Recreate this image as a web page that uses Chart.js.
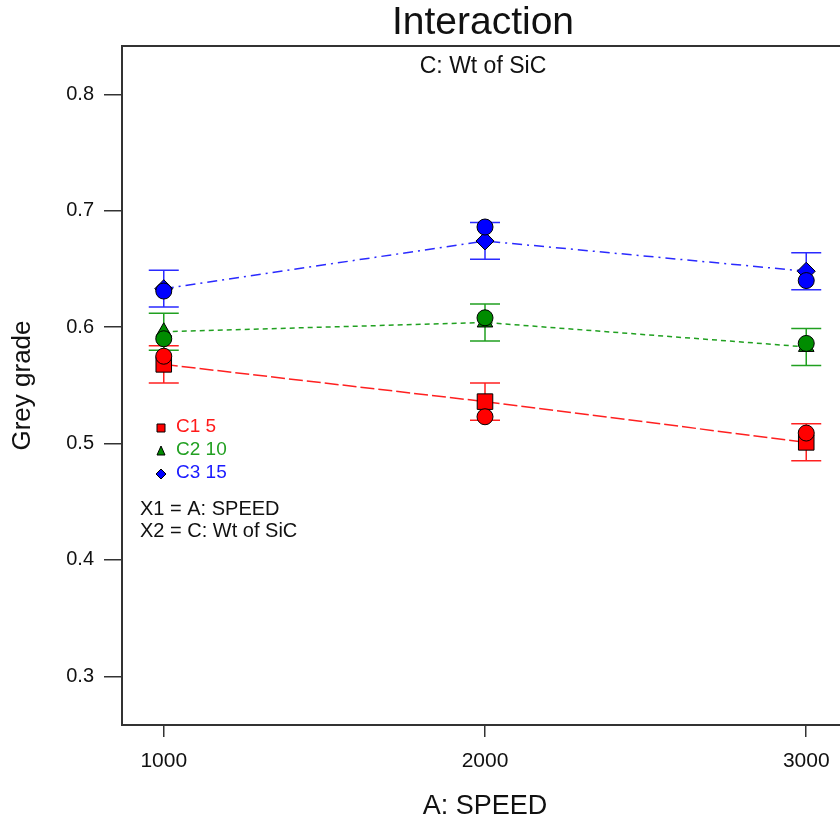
<!DOCTYPE html>
<html>
<head>
<meta charset="utf-8">
<script src="https://cdn.jsdelivr.net/npm/chart.js@4"></script>
<style>
  html, body { margin: 0; padding: 0; background: #fff; overflow: hidden; }
  canvas { display: block; }
</style>
</head>
<body>
<canvas id="interactionChart" width="860" height="825"></canvas>
<script>
// Data
const speeds = [1000, 2000, 3000];
const speedTicks = [1000, 2000, 3000];
const gradeTicks = [0.3, 0.4, 0.5, 0.6, 0.7, 0.8];

const seriesNames = ['C1 5', 'C2 10', 'C3 15'];

// predicted means (line points)
const predC1 = [0.568, 0.536, 0.501];
const predC2 = [0.596, 0.604, 0.583];
const predC3 = [0.633, 0.674, 0.648];

// LSD half-width for each mean
const errC1 = [0.0159, 0.0159, 0.0159];
const errC2 = [0.0159, 0.0159, 0.0159];
const errC3 = [0.0158, 0.0158, 0.0158];

// design points (circles)
const obsC1 = [0.575, 0.523, 0.509];
const obsC2 = [0.590, 0.608, 0.586];
const obsC3 = [0.631, 0.686, 0.640];

const lineColors = ['#ff2020', '#20a020', '#2a2aff'];
const fillColors = ['#ff0000', '#008c00', '#0000ff'];
const textColors = ['#ff1a1a', '#22a022', '#1a1aff'];
const markerStyles = ['rect', 'triangle', 'rectRot'];
const dashes = [[14, 4], [5, 4], [10, 5, 2, 5]];

const preds = [predC1, predC2, predC3];
const errs = [errC1, errC2, errC3];
const obs = [obsC1, obsC2, obsC3];

const FONT = '"Liberation Sans", Arial, sans-serif';

const toPoints = arr => speeds.map((s, i) => ({ x: s, y: arr[i] }));

const datasets = [];
// circles first so they sit on top
obs.forEach((arr, k) => {
    datasets.push({
        label: 'obs ' + seriesNames[k],
        data: toPoints(arr),
        showLine: false,
        pointStyle: 'circle',
        pointRadius: 8,
        backgroundColor: fillColors[k],
        borderColor: '#000',
        borderWidth: 1,
        order: 0
    });
});
preds.forEach((arr, k) => {
    datasets.push({
        label: seriesNames[k],
        data: toPoints(arr),
        showLine: true,
        borderColor: lineColors[k],
        borderWidth: 1.5,
        borderDash: dashes[k],
        pointStyle: markerStyles[k],
        pointRadius: k === 0 ? 11 : 9,
        pointBackgroundColor: fillColors[k],
        pointBorderColor: '#000',
        pointBorderWidth: 1,
        tension: 0,
        order: 1,
        errors: errs[k]
    });
});

// error bars under the markers
const errorBars = {
    id: 'errorBars',
    beforeDatasetsDraw(chart) {
        const { ctx, scales: { x, y } } = chart;
        ctx.save();
        ctx.lineWidth = 1.5;
        chart.data.datasets.forEach((ds, k) => {
            if (!ds.errors) return;
            ctx.strokeStyle = ds.borderColor;
            ds.data.forEach((p, i) => {
                const px = x.getPixelForValue(p.x);
                const top = y.getPixelForValue(p.y + ds.errors[i]);
                const bot = y.getPixelForValue(p.y - ds.errors[i]);
                ctx.beginPath();
                ctx.moveTo(px, top); ctx.lineTo(px, bot);
                ctx.moveTo(px - 15, top); ctx.lineTo(px + 15, top);
                ctx.moveTo(px - 15, bot); ctx.lineTo(px + 15, bot);
                ctx.stroke();
            });
        });
        ctx.restore();
    }
};

function drawMarker(ctx, style, cx, cy, r, fill) {
    ctx.beginPath();
    if (style === 'rect') {
        ctx.rect(cx - r, cy - r, 2 * r, 2 * r);
    } else if (style === 'triangle') {
        ctx.moveTo(cx, cy - r - 1);
        ctx.lineTo(cx + r, cy + r);
        ctx.lineTo(cx - r, cy + r);
        ctx.closePath();
    } else {
        ctx.moveTo(cx, cy - r - 1);
        ctx.lineTo(cx + r + 1, cy);
        ctx.lineTo(cx, cy + r + 1);
        ctx.lineTo(cx - r - 1, cy);
        ctx.closePath();
    }
    ctx.fillStyle = fill;
    ctx.fill();
    ctx.strokeStyle = '#000';
    ctx.lineWidth = 1;
    ctx.stroke();
}

// frame, titles and legend box inside the plot
const decorations = {
    id: 'decorations',
    afterDraw(chart) {
        const { ctx, chartArea: a } = chart;
        ctx.save();
        ctx.strokeStyle = '#333';
        ctx.lineWidth = 2;
        ctx.strokeRect(a.left, a.top, a.right - a.left, a.bottom - a.top);

        ctx.fillStyle = '#111';
        ctx.textAlign = 'center';
        ctx.textBaseline = 'middle';
        ctx.font = '39px ' + FONT;
        ctx.fillText('Interaction', 483, 23);
        ctx.font = '23px ' + FONT;
        ctx.fillText('C: Wt of SiC', 483, 67);

        ctx.textAlign = 'left';
        ctx.font = '19px ' + FONT;
        const rows = [427, 450, 473];
        seriesNames.forEach((name, k) => {
            drawMarker(ctx, markerStyles[k], 161, rows[k] + 1, 4, fillColors[k]);
            ctx.fillStyle = textColors[k];
            ctx.fillText(name, 176, rows[k]);
        });
        ctx.fillStyle = '#111';
        ctx.font = '20px ' + FONT;
        ctx.fillText('X1 = A: SPEED', 140, 509);
        ctx.fillText('X2 = C: Wt of SiC', 140, 531);
        ctx.restore();
    }
};

new Chart(document.getElementById('interactionChart'), {
    type: 'scatter',
    data: { datasets: datasets },
    options: {
        responsive: false,
        animation: false,
        events: [],
        layout: { padding: { left: 0, top: 46, right: 10, bottom: 0 } },
        plugins: {
            legend: { display: false },
            tooltip: { enabled: false },
            title: { display: false }
        },
        scales: {
            x: {
                type: 'linear',
                min: 870,
                max: 3130,
                afterBuildTicks: s => { s.ticks = speedTicks.map(v => ({ value: v })); },
                afterFit: s => { s.height = 100; },
                grid: { drawOnChartArea: false, tickLength: 12, color: '#333', lineWidth: 1.5 },
                border: { display: true, color: '#333', width: 2 },
                ticks: { color: '#111', font: { family: FONT, size: 21 }, padding: 12, maxRotation: 0, callback: v => String(v) },
                title: { display: true, text: 'A: SPEED', color: '#111', font: { family: FONT, size: 27 }, padding: { top: 0, bottom: 2 } }
            },
            y: {
                type: 'linear',
                min: 0.2582,
                max: 0.8415,
                afterBuildTicks: s => { s.ticks = gradeTicks.map(v => ({ value: v })); },
                afterFit: s => { s.width = 122; },
                grid: { drawOnChartArea: false, tickLength: 18, color: '#333', lineWidth: 1.5 },
                border: { display: true, color: '#333', width: 2 },
                ticks: { color: '#111', font: { family: FONT, size: 20 }, padding: 10, callback: v => v.toFixed(1) },
                title: { display: true, text: 'Grey grade', color: '#111', font: { family: FONT, size: 26 }, padding: { top: 7, bottom: 0 } }
            }
        }
    },
    plugins: [errorBars, decorations]
});
</script>
</body>
</html>
